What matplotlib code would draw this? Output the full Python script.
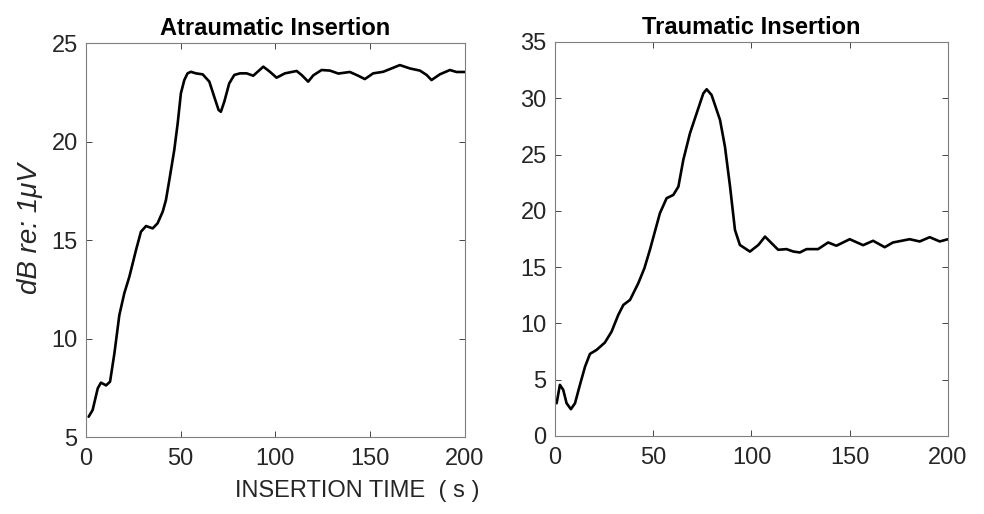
import numpy as np
import matplotlib
matplotlib.use("Agg")
import matplotlib.pyplot as plt

plt.rcParams["font.family"] = ["Liberation Sans", "DejaVu Sans"]

# atraumatic insertion (time in s, level in dB re 1 uV)
atr_time = [1.4, 3.5, 6.2, 7.9, 10.6, 12.7, 15, 17.6, 20.2, 22.9, 26.4, 29,
            31.7, 35.2, 37.8, 40.5, 42.2, 44, 46.6, 48.4, 50.1, 51.9, 53.6,
            55.4, 58, 61.6, 65.1, 67.7, 70, 71.2, 73, 75.6, 78.3, 81.3, 84.8,
            88.3, 93.6, 97.1, 100.6, 105, 111.2, 113.8, 117.3, 120, 124.4,
            128.8, 133.2, 139.3, 143.7, 147.2, 151.6, 156.9, 161.3, 165.7, 171,
            176.3, 179.8, 182.4, 186.8, 192.1, 195.6, 200]
atr_db = [6.03, 6.37, 7.47, 7.76, 7.62, 7.81, 9.25, 11.19, 12.29, 13.14, 14.49,
          15.42, 15.71, 15.59, 15.85, 16.44, 17.03, 18.05, 19.57, 20.92, 22.45,
          23.12, 23.46, 23.54, 23.46, 23.41, 23.04, 22.27, 21.6, 21.51, 22.02,
          22.95, 23.38, 23.46, 23.46, 23.34, 23.8, 23.54, 23.24, 23.46, 23.58,
          23.38, 23.04, 23.36, 23.63, 23.6, 23.45, 23.53, 23.34, 23.17, 23.46,
          23.54, 23.71, 23.88, 23.71, 23.6, 23.38, 23.12, 23.41, 23.63, 23.53,
          23.53]

# traumatic insertion
tra_time = [0.85, 2.5, 4.2, 5.9, 8.1, 10.2, 12.7, 15.3, 17.8, 21.2, 25.4, 28.8,
            32.2, 34.8, 38.2, 42.4, 45.5, 48.3, 53.4, 56.8, 60.2, 62.8, 65.3,
            68.7, 72.1, 75.5, 77.2, 79.7, 84, 86.5, 89.1, 91.6, 94.1, 99.2,
            103.5, 106.9, 110.2, 113.6, 117.8, 121.2, 124.6, 128, 133.9, 139,
            143.2, 150, 156.8, 161.9, 167.8, 172, 180.5, 185.6, 190.7, 195.8,
            200]
tra_db = [2.91, 4.54, 4.1, 2.91, 2.38, 2.91, 4.54, 6.16, 7.29, 7.65, 8.3, 9.27,
          10.75, 11.64, 12.09, 13.57, 14.9, 16.53, 19.79, 21.12, 21.41, 22.15,
          24.52, 26.89, 28.67, 30.44, 30.8, 30.29, 28.07, 25.7, 22.15, 18.3,
          16.97, 16.38, 16.97, 17.71, 17.13, 16.54, 16.6, 16.39, 16.3, 16.6,
          16.6, 17.19, 16.9, 17.48, 16.95, 17.34, 16.77, 17.19, 17.48, 17.28,
          17.66, 17.28, 17.48]

axis_col = "#262626"

fig = plt.figure(figsize=(9.84, 5.14), dpi=100)
ax1 = fig.add_axes([0.0874, 0.1498, 0.385, 0.7665])
ax2 = fig.add_axes([0.564, 0.1518, 0.3994, 0.7665])

panels = [
    (ax1, atr_time, atr_db, "Atraumatic Insertion", (5, 25), [5, 10, 15, 20, 25]),
    (ax2, tra_time, tra_db, "Traumatic Insertion", (0, 35), [0, 5, 10, 15, 20, 25, 30, 35]),
]

for ax, t, db, title, ylim, yticks in panels:
    ax.plot(t, db, color="black", lw=1.9, solid_joinstyle="round",
            solid_capstyle="round")
    ax.set_xlim(0, 200)
    ax.set_ylim(*ylim)
    ax.set_xticks([0, 50, 100, 150, 200])
    ax.set_yticks(yticks)
    ax.tick_params(direction="in", top=True, right=True, length=4,
                   width=0.6, color=axis_col, labelsize=17)
    ax.tick_params(axis="x", pad=8)
    ax.tick_params(axis="y", pad=6)
    for lab in ax.get_xticklabels() + ax.get_yticklabels():
        lab.set_color(axis_col)
    for sp in ax.spines.values():
        sp.set_color("#7f7f7f")
        sp.set_linewidth(0.8)
    ax.set_title(title, fontsize=17, fontweight="bold", pad=6)

ax1.set_ylabel("dB re: 1\u03bcV", fontsize=20, style="italic", color=axis_col,
               va="center")
ax1.yaxis.set_label_coords(-0.148, 0.528)
fig.text(0.363, 0.033, "INSERTION TIME  ( s )", fontsize=17, color=axis_col,
         ha="center", va="baseline")

fig.savefig("out.png", dpi=100)
